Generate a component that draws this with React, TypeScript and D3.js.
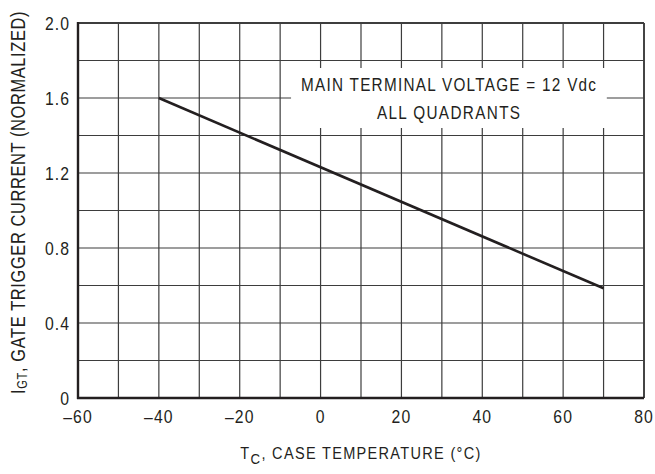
import React from "react";
import * as d3 from "d3";

// Normalized gate trigger current vs case temperature
const tempC = [-40, 70];
const igtNorm = [1.6, 0.585];

const xTickValues = [-60, -40, -20, 0, 20, 40, 60, 80];
const xTickLabels = ["\u201360", "\u201340", "\u201320", "0", "20", "40", "60", "80"];
const yTickValues = [0, 0.4, 0.8, 1.2, 1.6, 2.0];
const yTickLabels = ["0", "0.4", "0.8", "1.2", "1.6", "2.0"];

const noteLines = ["MAIN TERMINAL VOLTAGE = 12 Vdc", "ALL QUADRANTS"];

const width = 655;
const height = 474;
const margin = { top: 23, right: 11, bottom: 76, left: 78 };
const font = "'Liberation Sans', Arial, sans-serif";
const ink = "#231f20";
const gridColor = "#3d3d3d";

// condensed text: horizontal squeeze + tracking
function Label(props: {
  x: number;
  y: number;
  size: number;
  sx: number;
  ls: number;
  anchor: string;
  rotate?: number;
  children: React.ReactNode;
}) {
  const { x, y, size, sx, ls, anchor, rotate = 0, children } = props;
  return (
    <g transform={`translate(${x},${y}) rotate(${rotate}) scale(${sx},1)`}>
      <text
        textAnchor={anchor}
        fontFamily={font}
        fontSize={size}
        fill={ink}
        style={{ letterSpacing: `${ls}px` }}
      >
        {children}
      </text>
    </g>
  );
}

export default function App() {
  const x = d3
    .scaleLinear()
    .domain([-60, 80])
    .range([margin.left, width - margin.right]);
  const y = d3
    .scaleLinear()
    .domain([0, 2])
    .range([height - margin.bottom, margin.top]);

  const gridX = x.ticks(14);
  const gridY = y.ticks(10);

  const pts = tempC.map((t, i) => [t, igtNorm[i]] as [number, number]);
  const line = d3
    .line<[number, number]>()
    .x((d) => x(d[0]))
    .y((d) => y(d[1]));

  // white background behind the note
  const boxL = x(-7.3);
  const boxR = x(70.8);
  const boxT = y(1.76);
  const boxB = y(1.44);
  const noteX = x(31.8);

  return (
    <div style={{ position: "fixed", left: 0, top: 0 }}>
      <svg width={width} height={height} style={{ display: "block", background: "#fff" }}>
        {/* grid */}
        <g stroke={gridColor} strokeWidth={1.2}>
          {gridX.map((v) => (
            <line key={"gx" + v} x1={x(v)} x2={x(v)} y1={y(0)} y2={y(2)} />
          ))}
          {gridY.map((v) => (
            <line key={"gy" + v} x1={x(-60)} x2={x(80)} y1={y(v)} y2={y(v)} />
          ))}
        </g>

        <rect x={boxL} y={boxT} width={boxR - boxL} height={boxB - boxT} fill="#fff" />

        {/* frame: heavier left and bottom */}
        <line x1={x(80)} x2={x(80)} y1={y(0)} y2={y(2)} stroke={gridColor} strokeWidth={1.8} />
        <line x1={x(-60)} x2={x(80)} y1={y(2)} y2={y(2)} stroke={gridColor} strokeWidth={1.8} />
        <line x1={x(-60)} x2={x(-60)} y1={y(0) + 1} y2={y(2) - 1} stroke={ink} strokeWidth={2.4} />
        <line x1={x(-60) - 1} x2={x(80)} y1={y(0)} y2={y(0)} stroke={ink} strokeWidth={2.4} />

        {/* data */}
        <path d={line(pts) || ""} fill="none" stroke={ink} strokeWidth={2.6} />

        {/* note */}
        <Label x={noteX} y={91} size={18} sx={0.85} ls={1.5} anchor="middle">
          {noteLines[0]}
        </Label>
        <Label x={noteX} y={119} size={18} sx={0.85} ls={1.6} anchor="middle">
          {noteLines[1]}
        </Label>

        {/* tick labels */}
        {xTickValues.map((v, i) => (
          <Label key={"xt" + v} x={x(v)} y={y(0) + 25} size={17.5} sx={0.9} ls={1.2} anchor="middle">
            {xTickLabels[i]}
          </Label>
        ))}
        {yTickValues.map((v, i) => (
          <Label key={"yt" + v} x={x(-60) - 8} y={y(v) + 6.5} size={17.5} sx={0.9} ls={1.2} anchor="end">
            {yTickLabels[i]}
          </Label>
        ))}

        {/* axis titles */}
        <Label x={(x(-60) + x(80)) / 2} y={459} size={16.5} sx={0.88} ls={1.5} anchor="middle">
          T<tspan fontSize={15} dy={5}>C</tspan>
          <tspan dy={-5}>, CASE TEMPERATURE (°C)</tspan>
        </Label>
        <Label x={25} y={(y(0) + y(2)) / 2 - 8} size={20.5} sx={0.8} ls={0.8} anchor="middle" rotate={-90}>
          I<tspan fontSize={14} dy={2}>GT</tspan>
          <tspan dy={-2}>, GATE TRIGGER CURRENT (NORMALIZED)</tspan>
        </Label>
      </svg>
    </div>
  );
}
